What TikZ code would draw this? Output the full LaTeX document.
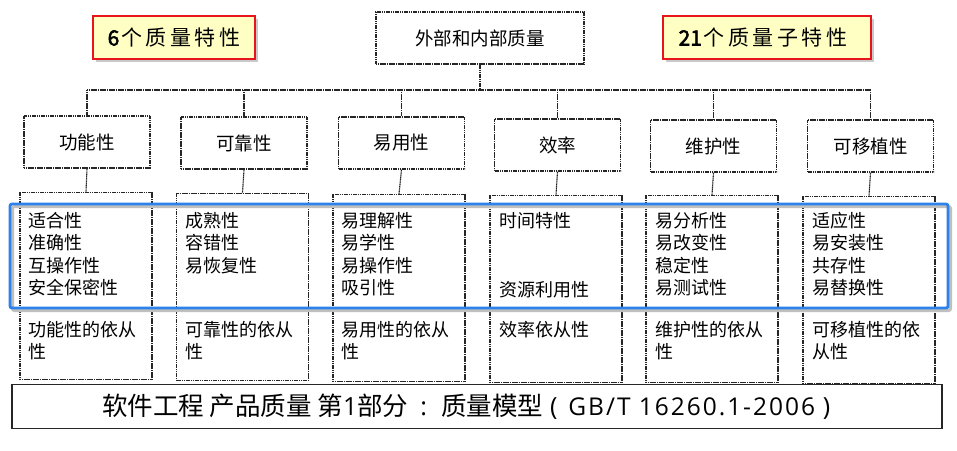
\documentclass[tikz,border=0pt]{standalone}
\usepackage{fontspec}
\newfontfamily\cjk{Noto Sans CJK SC}
\newfontfamily\cjkb{Noto Sans CJK SC}[FakeBold=2.5]
\newfontfamily\latinsans{Open Sans}
\newfontfamily\latinwide{Open Sans}[LetterSpace=8]
\usetikzlibrary{shadows,calc}
\definecolor{calloutfill}{HTML}{FFFFC4}
\definecolor{calloutred}{HTML}{E8141B}
\definecolor{hlblue}{HTML}{2C82EA}
\tikzset{
  scanline/.style={line width=1.1pt, draw=black!85, dash pattern=on 1.3pt off 0.5pt},
  topbox/.style={scanline, rectangle, minimum width=208pt, minimum height=52pt, inner sep=0pt, font=\cjk\fontsize{18.5}{20}\selectfont},
  charbox/.style={scanline, rectangle, minimum width=126pt, minimum height=52pt, inner sep=0pt, font=\cjk\fontsize{18.5}{20}\selectfont},
  subbox/.style={scanline, rectangle, minimum width=132pt, minimum height=187pt, inner sep=0pt},
  subtext/.style={anchor=north west, inner sep=0pt, align=left, font=\cjk\fontsize{18}{22.4}\selectfont},
  callout/.style={rectangle, fill=calloutfill, draw=calloutred, line width=2.6pt, inner sep=0pt,
    drop shadow={shadow xshift=3pt, shadow yshift=-3pt, opacity=0.35, fill=black!60}},
  callouttext/.style={font=\cjk\fontsize{21}{24}\selectfont, inner sep=0pt},
  hlrect/.style={draw=hlblue, line width=2.8pt, rounded corners=2pt},
  hlshadow/.style={draw=black!25, line width=3pt, rounded corners=2pt},
  titlebox/.style={draw=black!85, line width=1.1pt, rectangle, minimum width=930pt, minimum height=44pt, inner sep=0pt},
  titletext/.style={font=\cjk\fontsize{25.5}{28}\selectfont, inner sep=0pt},
}
\begin{document}
\begin{tikzpicture}[x=1pt,y=-1pt]
\useasboundingbox[fill=white] (0,0) rectangle (957,450);

% top box
\node[topbox] (top) at (480,38) {外部和内部质量};
\coordinate (bus) at (480,90);

% second level
\node[charbox] (a1) at (87,142)   {功能性};
\node[charbox] (a2) at (244,143)  {可靠性};
\node[charbox] (a3) at (401.5,143){易用性};
\node[charbox] (a4) at (557.5,145){效率};
\node[charbox] (a5) at (713.5,146){维护性};
\node[charbox] (a6) at (870.5,146){可移植性};

% third level boxes
\node[subbox] (b1) at (86,286)   {};
\node[subbox] (b2) at (242.5,287){};
\node[subbox] (b3) at (399,288)  {};
\node[subbox] (b4) at (556,289)  {};
\node[subbox] (b5) at (712,289)  {};
\node[subbox] (b6) at (869,290)  {};

% connectors
\draw[scanline] (top.south) -- (bus);
\draw[scanline] (a1 |- bus) -- (a6 |- bus);
\foreach \i in {1,...,6}{
  \draw[scanline] (a\i |- bus) -- (a\i.north);
  \draw[scanline] (a\i.south) -- (b\i.north);
}

% sub-characteristic texts
\node[subtext] (t1) at (28,212) {适合性\\准确性\\互操作性\\安全保密性};
\node[subtext] (t2) at (185,212){成熟性\\容错性\\易恢复性};
\node[subtext] (t3) at (341,212){易理解性\\易学性\\易操作性\\吸引性};
\node[subtext] (t4a) at (499,212){时间特性};
\node[subtext] (t4b) at (499,281){资源利用性};
\node[subtext] (t5) at (655,212){易分析性\\易改变性\\稳定性\\易测试性};
\node[subtext] (t6) at (812,212){适应性\\易安装性\\共存性\\易替换性};

% compliance texts
\node[subtext] (c1) at (28,321) {功能性的依从\\性};
\node[subtext] (c2) at (185,321){可靠性的依从\\性};
\node[subtext] (c3) at (341,321){易用性的依从\\性};
\node[subtext] (c4) at (499,321){效率依从性};
\node[subtext] (c5) at (655,321){维护性的依从\\性};
\node[subtext] (c6) at (812,321){可移植性的依\\从性};

% highlight rectangle
\draw[hlshadow] (12.5,206.5) rectangle (950.5,310.5);
\draw[hlrect] (10,204) rectangle (948,308);

% bottom title
\node[titlebox] (title) at (477,406.5) {};
\node[titletext, anchor=west] (tt) at (102,406.5) {软件工程 产品质量 第{\latinsans\fontsize{25}{28}\selectfont 1}部分{\latinsans\fontsize{25}{28}\selectfont\kern12pt:\kern14pt}质量模型{\latinsans\fontsize{25}{28}\selectfont\kern7pt(\kern11pt}{\latinwide\fontsize{24.5}{28}\selectfont GB/T 16260.1-2006}{\latinsans\fontsize{25}{28}\selectfont\kern8pt)}};

% callouts
\node[callout, minimum width=162pt, minimum height=43pt] (k1) at (174,37.5) {};
\node[callouttext] (k1t) at (174,37.5) {{\cjkb 6}\kern2pt 个\kern3.5pt 质\kern3.5pt 量\kern3.5pt 特\kern3.5pt 性};
\node[callout, minimum width=208pt, minimum height=43pt] (k2) at (767,37.5) {};
\node[callouttext] (k2t) at (763,37.5) {{\cjkb 21}\kern2pt 个\kern3.5pt 质\kern3.5pt 量\kern3.5pt 子\kern3.5pt 特\kern3.5pt 性};
\end{tikzpicture}
\end{document}
